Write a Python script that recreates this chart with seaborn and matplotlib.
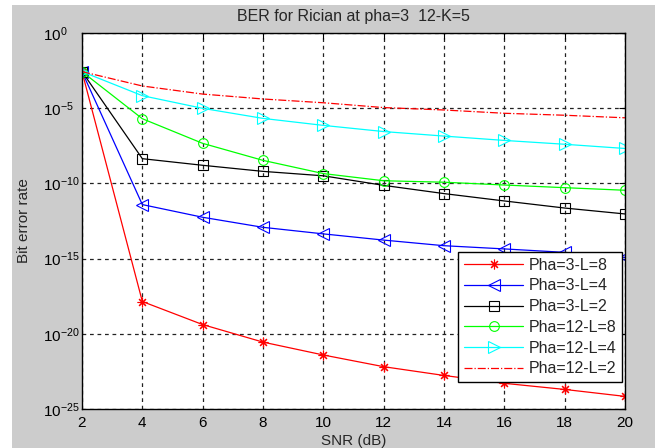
import matplotlib
matplotlib.use("Agg")
import matplotlib.pyplot as plt
import seaborn as sns
import numpy as np
import pandas as pd
from matplotlib.patches import Rectangle
from matplotlib.ticker import FixedLocator, FixedFormatter, NullLocator

snr = [2, 4, 6, 8, 10, 12, 14, 16, 18, 20]

ber_pha3_L8 = [2.7e-3, 1.4e-18, 4.1e-20, 2.8e-21, 3.9e-22, 6.5e-23, 1.7e-23, 5.1e-24, 2.0e-24, 6.9e-25]
ber_pha3_L4 = [2.7e-3, 3.9e-12, 5.6e-13, 1.2e-13, 4.4e-14, 1.7e-14, 7.2e-15, 4.4e-15, 2.6e-15, 1.2e-15]
ber_pha3_L2 = [2.7e-3, 4.4e-9, 1.6e-9, 6.3e-10, 3.2e-10, 7.4e-11, 2.1e-11, 6.8e-12, 2.3e-12, 9.3e-13]
ber_pha12_L8 = [2.7e-3, 2.0e-6, 4.6e-8, 3.4e-9, 4.5e-10, 1.5e-10, 1.2e-10, 7.8e-11, 5.2e-11, 3.5e-11]
ber_pha12_L4 = [2.7e-3, 6.8e-5, 9.8e-6, 2.1e-6, 7.2e-7, 2.8e-7, 1.4e-7, 7.2e-8, 4.0e-8, 2.1e-8]
ber_pha12_L2 = [2.7e-3, 3.0e-4, 8.7e-5, 4.1e-5, 2.3e-5, 1.1e-5, 7.6e-6, 4.6e-6, 3.4e-6, 2.3e-6]

labels = ["Pha=3-L=8", "Pha=3-L=4", "Pha=3-L=2", "Pha=12-L=8", "Pha=12-L=4", "Pha=12-L=2"]
series = [ber_pha3_L8, ber_pha3_L4, ber_pha3_L2, ber_pha12_L8, ber_pha12_L4, ber_pha12_L2]

ytick_exp = [0, -5, -10, -15, -20, -25]
xticks = [2, 4, 6, 8, 10, 12, 14, 16, 18, 20]

sns.set_style("white")
plt.rcParams["font.family"] = ["Liberation Sans", "DejaVu Sans"]
plt.rcParams["mathtext.fontset"] = "custom"
plt.rcParams["mathtext.rm"] = "Liberation Sans"

W, H = 661, 448
fig = plt.figure(figsize=(W / 100, H / 100), dpi=100, facecolor="white")
fig.patches.append(Rectangle((12 / W, 0), (655 - 12) / W, (448 - 5) / H,
                             transform=fig.transFigure, facecolor="#cccccc",
                             edgecolor="none", zorder=-10))

ax = fig.add_axes([82 / W, (H - 409) / H, 543 / W, 376 / H])
ax.set_facecolor("white")

styles = [
    dict(color="#ff0000", marker=(8, 2, 0), markersize=7, linestyle="-"),
    dict(color="#0000ff", marker="<", markersize=8, markerfacecolor="none", linestyle="-"),
    dict(color="#000000", marker="s", markersize=7, markerfacecolor="none", linestyle="-"),
    dict(color="#00ff00", marker="o", markersize=7, markerfacecolor="none", linestyle="-"),
    dict(color="#00ffff", marker=">", markersize=8, markerfacecolor="none", linestyle="-"),
    dict(color="#ff0000", marker=None, linestyle="-."),
]

for vals, lab, st in zip(series, labels, styles):
    st = dict(st)
    color = st.pop("color")
    kw = dict(linewidth=0.9, markeredgecolor=color, markeredgewidth=0.8)
    kw.update(st)
    sns.lineplot(x=snr, y=vals, ax=ax, color=color, label=lab, **kw)

ax.set_yscale("log")
ax.set_xlim(2, 20)
ax.set_ylim(1e-25, 1e0)
ax.yaxis.set_major_locator(FixedLocator([10.0 ** e for e in ytick_exp]))
ax.yaxis.set_major_formatter(FixedFormatter([r"$\mathregular{10^{%d}}$" % e for e in ytick_exp]))
ax.yaxis.set_minor_locator(NullLocator())
ax.set_xticks(xticks)
ax.set_xticklabels([str(v) for v in xticks])

ax.grid(True, which="major", color="#222222", linestyle=(0, (3, 3)), linewidth=0.9)
ax.tick_params(direction="in", length=4, labelsize=11, colors="black", top=True, right=True)
ax.tick_params(axis="x", pad=5)
ax.tick_params(axis="y", pad=28)
for lbl in ax.get_yticklabels():
    lbl.set_horizontalalignment("left")
for s in ax.spines.values():
    s.set_color("black")
    s.set_linewidth(1.0)

ax.set_title("BER for Rician at pha=3  12-K=5", fontsize=11.5, pad=9)
ax.set_xlabel("SNR (dB)", fontsize=11, labelpad=3)
ax.set_ylabel("Bit error rate", fontsize=11, labelpad=9)

leg = ax.legend(loc="lower right", bbox_to_anchor=(0.9945, 0.0718), borderaxespad=0,
                fontsize=11.5, frameon=True, fancybox=False, framealpha=1,
                edgecolor="black", handlelength=3.7, handletextpad=0.35,
                labelspacing=0.36, borderpad=0.35)
leg.get_frame().set_linewidth(1.0)

fig.savefig("out.png", dpi=100, facecolor=fig.get_facecolor())
